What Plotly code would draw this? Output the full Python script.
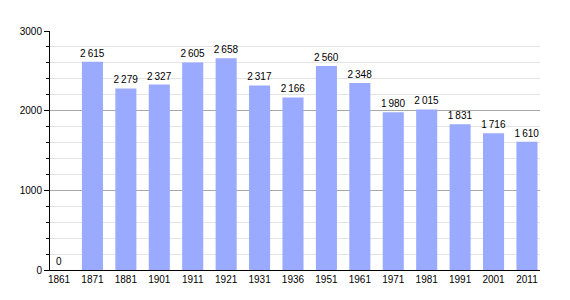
import plotly.graph_objects as go

years = ["1861", "1871", "1881", "1901", "1911", "1921", "1931", "1936",
         "1951", "1961", "1971", "1981", "1991", "2001", "2011"]
population = [0, 2615, 2279, 2327, 2605, 2658, 2317, 2166,
              2560, 2348, 1980, 2015, 1831, 1716, 1610]

fig = go.Figure(go.Bar(
    x=years, y=population,
    marker=dict(color="#99aaff", line=dict(width=0)),
    width=0.63,
    texttemplate="%{y:,}",
    textposition="outside",
    constraintext="none",
    textfont=dict(size=10, color="black", family="Liberation Sans, Arial, sans-serif"),
    cliponaxis=False,
))

fig.update_layout(
    width=570, height=300,
    margin=dict(l=50, r=30, t=31, b=30),
    plot_bgcolor="white", paper_bgcolor="white",
    separators=".\u2009",
    font=dict(family="Liberation Sans, Arial, sans-serif", size=10, color="black"),
    showlegend=False,
    bargap=0.37,
)
fig.update_xaxes(
    type="category", range=[-0.27, 14.39],
    showline=True, linecolor="black", linewidth=1,
    ticks="", showgrid=False, tickfont=dict(size=10), ticklen=0,
)
fig.update_yaxes(
    range=[0, 3000], dtick=1000, tick0=0,
    showline=True, linecolor="black", linewidth=1,
    ticks="outside", ticklen=5, tickcolor="black",
    showgrid=True, gridcolor="#a8a8a8", gridwidth=1,
    zeroline=False,
    minor=dict(dtick=200, showgrid=True, gridcolor="#e4e4e4", ticks="outside",
               ticklen=3, tickcolor="black"),
    tickfont=dict(size=10),
)

fig.write_html("out.html")
